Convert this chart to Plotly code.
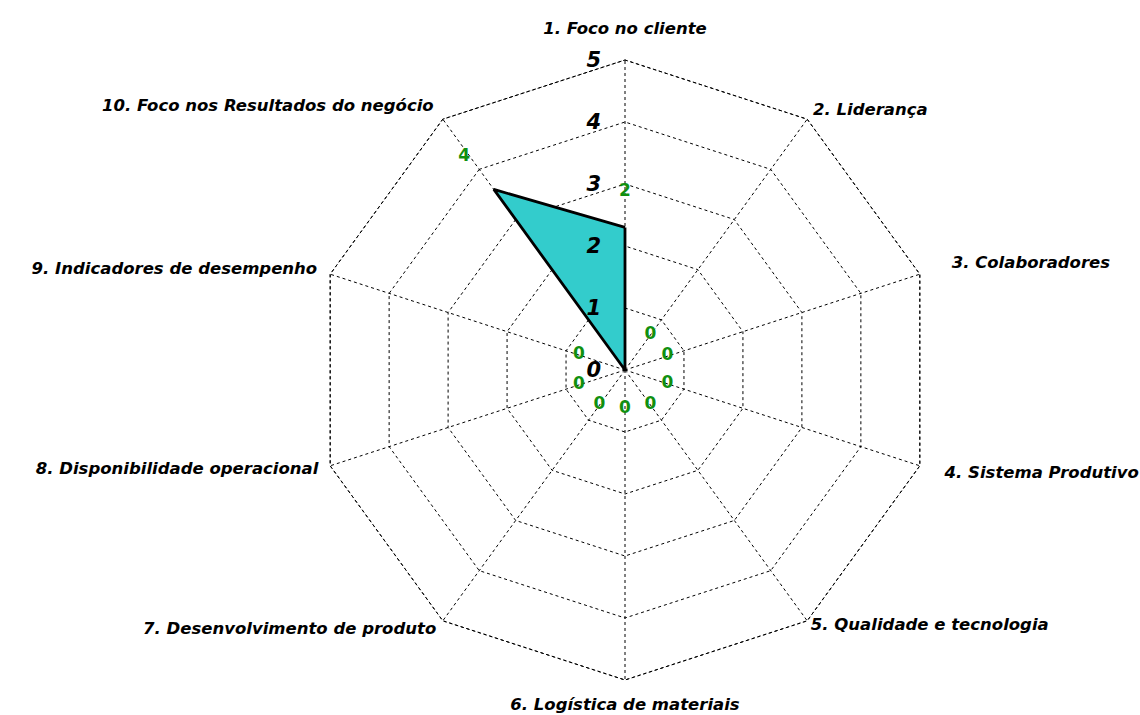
import plotly.graph_objects as go

categories = [
    "1. Foco no cliente", "2. Liderança", "3. Colaboradores", "4. Sistema Produtivo",
    "5. Qualidade e tecnologia", "6. Logística de materiais", "7. Desenvolvimento de produto",
    "8. Disponibilidade operacional", "9. Indicadores de desempenho",
    "10. Foco nos Resultados do negócio",
]
values = [2.3, 0, 0, 0, 0, 0, 0, 0, 0, 3.6]
value_labels = [f"{v:.0f}" for v in values]
radial_ticks = [0, 1, 2, 3, 4, 5]

# label placement (style only)
label_offsets = [0.57, 0.7, 0.72, 0.72, 0.7, 0.62, 0.7, 0.78, 0.78, 0.65]
label_pos = ["middle center"] * 9 + ["middle left"]
cat_label_r = [5.48, 5.16, 5.54, 5.42, 5.1, 5.42, 5.18, 5.2, 5.22, 5.25]
cat_label_pos = ["middle center", "middle right", "middle right", "middle right", "middle right",
                 "middle center", "middle left", "middle left", "middle left", "middle left"]

W, H = 1140, 715
cx, cy, R5 = 625, 370, 310
RMAX = 5.55
R = R5 * RMAX / radial_ticks[-1]

FONT = "DejaVu Sans"
DASH = "3px,3px"

fig = go.Figure()

theta_closed = categories + [categories[0]]

# spokes
spoke_r, spoke_t = [], []
for c in categories:
    spoke_r += [0, radial_ticks[-1], None]
    spoke_t += [c, c, c]
fig.add_trace(go.Scatterpolar(
    r=spoke_r, theta=spoke_t, mode="lines", connectgaps=False,
    line=dict(color="black", width=1, dash=DASH), hoverinfo="skip", showlegend=False,
))
# outer dashed ring
fig.add_trace(go.Scatterpolar(
    r=[radial_ticks[-1]] * (len(categories) + 1), theta=theta_closed, mode="lines",
    line=dict(color="black", width=1, dash=DASH), hoverinfo="skip", showlegend=False,
))
fig.add_trace(go.Scatterpolar(
    r=values + [values[0]], theta=theta_closed, mode="lines",
    fill="toself", fillcolor="#33CCCC",
    line=dict(color="black", width=2.8), hoverinfo="skip", showlegend=False,
))
fig.add_trace(go.Scatterpolar(
    r=[0], theta=[categories[0]], mode="markers",
    marker=dict(color="black", size=6), hoverinfo="skip", showlegend=False,
))
fig.add_trace(go.Scatterpolar(
    r=[v + d for v, d in zip(values, label_offsets)], theta=categories, mode="text",
    text=value_labels, textposition=label_pos,
    textfont=dict(family=FONT, size=17, color="#109010", weight="bold"),
    hoverinfo="skip", showlegend=False,
))
# category labels
fig.add_trace(go.Scatterpolar(
    r=cat_label_r, theta=categories, mode="text", text=categories,
    textposition=cat_label_pos, cliponaxis=False,
    textfont=dict(family=FONT, size=16.5, color="black", weight="bold", style="italic"),
    hoverinfo="skip", showlegend=False,
))

fig.update_layout(
    width=W, height=H,
    margin=dict(l=0, r=0, t=0, b=0),
    paper_bgcolor="white",
    showlegend=False,
    polar=dict(
        domain=dict(x=[(cx - R) / W, (cx + R) / W],
                    y=[max(0, (H - cy - R) / H), min(1, (H - cy + R) / H)]),
        bgcolor="white",
        gridshape="linear",
        angularaxis=dict(
            direction="clockwise", rotation=90, categoryorder="array", categoryarray=categories,
            showline=False, showgrid=False, ticks="", showticklabels=False,
        ),
        radialaxis=dict(
            range=[0, RMAX], tickvals=radial_ticks, ticktext=[str(t) for t in radial_ticks],
            angle=90, tickangle=90, side="counterclockwise",
            showline=False, showgrid=True, gridcolor="black", griddash=DASH, gridwidth=1,
            ticks="outside", ticklen=16, tickcolor="rgba(0,0,0,0)",
            tickfont=dict(family=FONT, size=21, color="black", weight="bold", style="italic"),
        ),
    ),
)

fig.write_html("out.html")
